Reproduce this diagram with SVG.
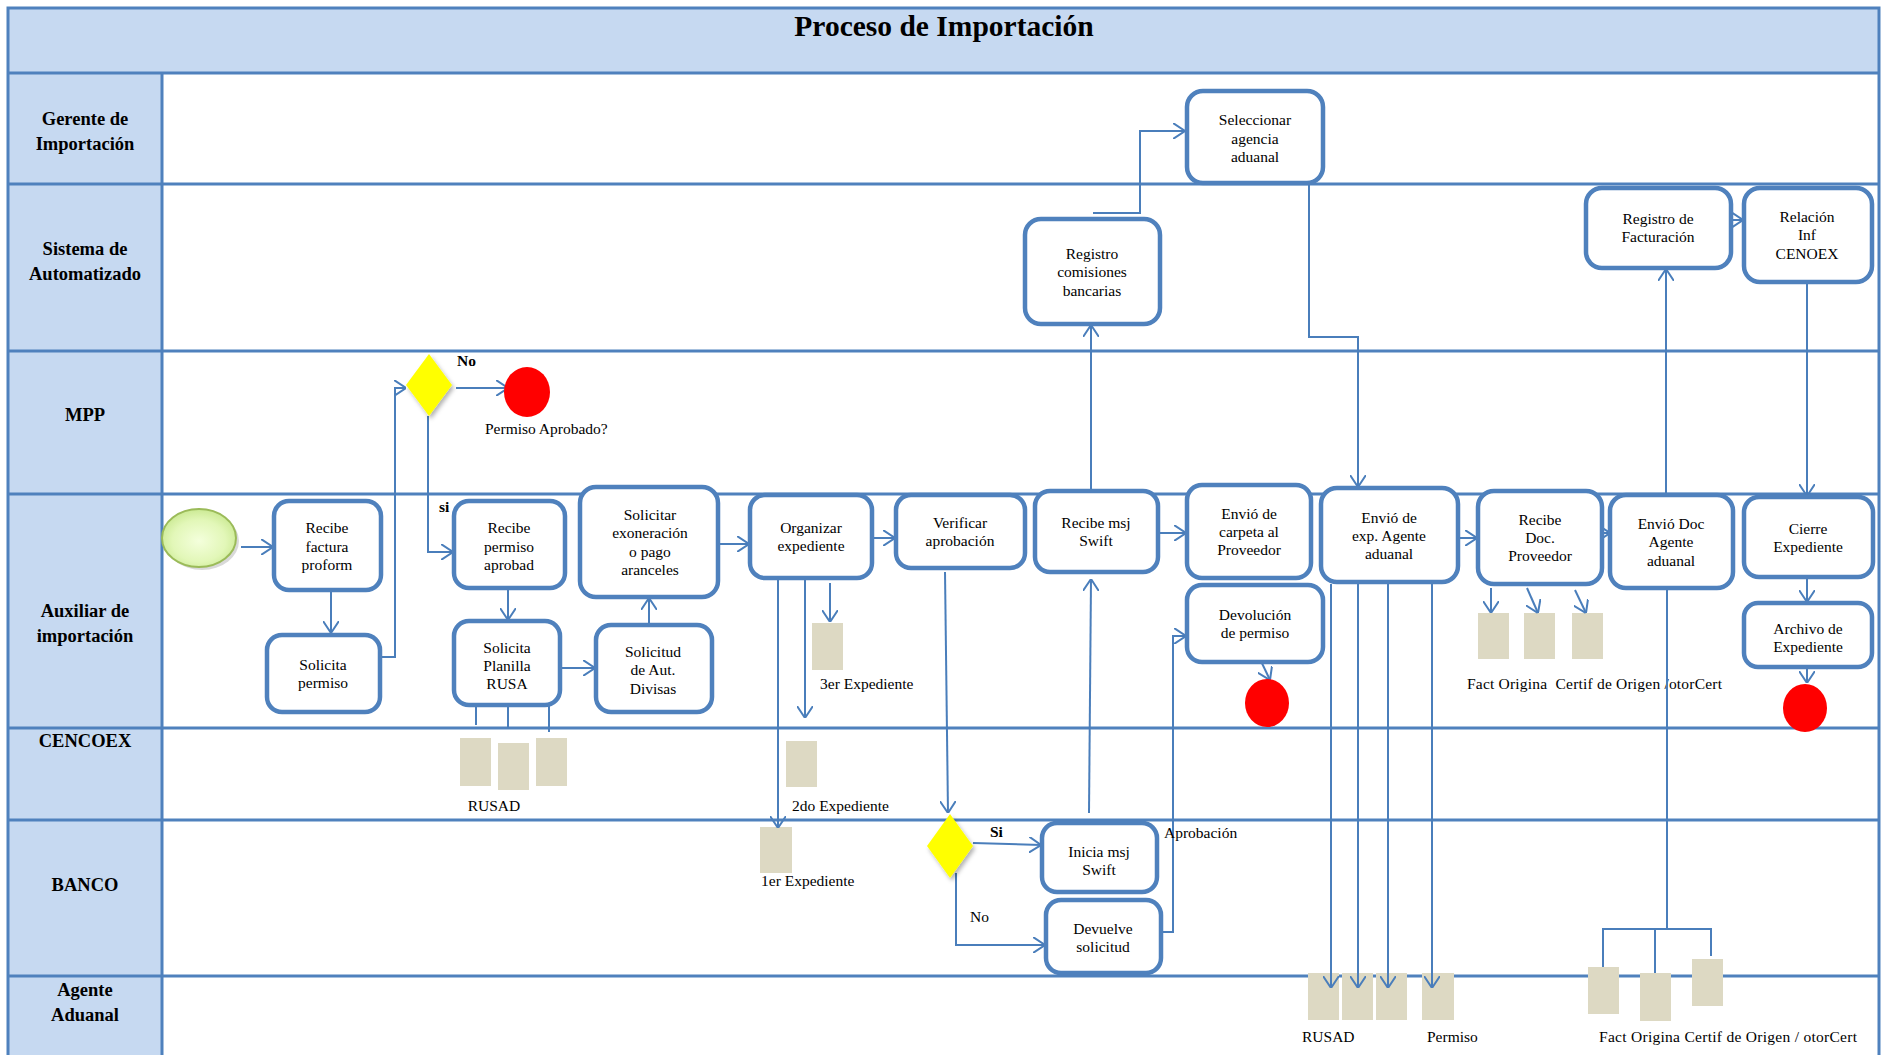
<svg xmlns="http://www.w3.org/2000/svg" width="1888" height="1055" viewBox="0 0 1888 1055">
  <style>
    .lane { stroke: #4f81bd; stroke-width: 3; fill: none; }
    .hdr { fill: #c6d9f1; }
    .hlabel { font-family: "Liberation Serif", "Times New Roman", serif; font-weight: bold; font-size: 18.5px; fill: #000; text-anchor: middle; }
    .title { font-family: "Liberation Serif", "Times New Roman", serif; font-weight: bold; font-size: 29.5px; fill: #000; text-anchor: middle; }
    .box { fill: #fff; stroke: #4f81bd; stroke-width: 4.5; }
    .t { font-family: "Liberation Serif", "Times New Roman", serif; font-size: 15.5px; fill: #000; text-anchor: middle; }
    .lbl { font-family: "Liberation Serif", "Times New Roman", serif; font-size: 15.5px; fill: #000; }
    .b { font-weight: bold; }
    .doc { fill: #ddd9c3; }
    .end { fill: #ff0000; }
    .gate { fill: #ffff00; filter: url(#shadow); }
    .conn path { fill: none; stroke: #4a7ebb; stroke-width: 2; }
    .conn .arr { marker-end: url(#open); }
  </style>
  <defs>
    <marker id="open" viewBox="0 0 12 16" refX="12" refY="8" markerWidth="12" markerHeight="16" markerUnits="userSpaceOnUse" orient="auto">
      <path d="M0,0 L12,8 L0,16" fill="none" stroke="#4a7ebb" stroke-width="2"/>
    </marker>
    <radialGradient id="startFill" cx="50%" cy="55%" r="60%">
      <stop offset="0" stop-color="#f4ffdc"/>
      <stop offset="0.6" stop-color="#e2f7b8"/>
      <stop offset="1" stop-color="#c5e68a"/>
    </radialGradient>
    <filter id="shadow" x="-30%" y="-30%" width="160%" height="160%">
      <feDropShadow dx="2" dy="3" stdDeviation="2" flood-color="#000" flood-opacity="0.3"/>
    </filter>
  </defs>

  <!-- pool frame, title band and lane headers -->
  <g id="pool">
    <rect x="8" y="8" width="1871" height="65" class="hdr"/>
    <rect x="8" y="73" width="154" height="990" class="hdr"/>
    <rect x="8" y="8" width="1871" height="1060" class="lane"/>
    <path class="lane" d="M8,73 H1879 M8,184 H1879 M8,351 H1879 M8,494 H1879 M8,728 H1879 M8,820 H1879 M8,976 H1879 M162,73 V1055"/>
    <text class="title" x="944" y="36">Proceso de Importación</text>
    <text class="hlabel" x="85" y="125">Gerente de</text>
    <text class="hlabel" x="85" y="150">Importación</text>
    <text class="hlabel" x="85" y="255">Sistema de</text>
    <text class="hlabel" x="85" y="280">Automatizado</text>
    <text class="hlabel" x="85" y="421">MPP</text>
    <text class="hlabel" x="85" y="617">Auxiliar de</text>
    <text class="hlabel" x="85" y="642">importación</text>
    <text class="hlabel" x="85" y="747">CENCOEX</text>
    <text class="hlabel" x="85" y="891">BANCO</text>
    <text class="hlabel" x="85" y="996">Agente</text>
    <text class="hlabel" x="85" y="1021">Aduanal</text>
  </g>

  <!-- documents -->
  <g id="docs_rusad">
    <rect class="doc" x="460" y="738" width="31" height="48"/>
    <rect class="doc" x="498" y="743" width="31" height="47"/>
    <rect class="doc" x="536" y="738" width="31" height="48"/>
    <text class="lbl" x="494" y="811" text-anchor="middle">RUSAD</text>
  </g>
  <g id="docs_expediente">
    <rect class="doc" x="812" y="623" width="31" height="47"/>
    <text class="lbl" x="820" y="689">3er Expediente</text>
    <rect class="doc" x="786" y="741" width="31" height="46"/>
    <text class="lbl" x="792" y="811">2do Expediente</text>
    <rect class="doc" x="760" y="827" width="32" height="46"/>
    <text class="lbl" x="761" y="886">1er Expediente</text>
  </g>
  <g id="docs_proveedor">
    <rect class="doc" x="1478" y="613" width="31" height="46"/>
    <rect class="doc" x="1524" y="613" width="31" height="46"/>
    <rect class="doc" x="1572" y="613" width="31" height="46"/>
    <text class="lbl" x="1467" y="689" xml:space="preserve" textLength="255" lengthAdjust="spacing">Fact Origina  Certif de Origen /otorCert</text>
  </g>
  <g id="docs_agente">
    <rect class="doc" x="1308" y="973" width="31" height="47"/>
    <rect class="doc" x="1342" y="973" width="31" height="47"/>
    <rect class="doc" x="1376" y="973" width="31" height="47"/>
    <rect class="doc" x="1422" y="973" width="32" height="47"/>
    <text class="lbl" x="1302" y="1042">RUSAD</text>
    <text class="lbl" x="1427" y="1042">Permiso</text>
    <rect class="doc" x="1588" y="967" width="31" height="47"/>
    <rect class="doc" x="1640" y="973" width="31" height="48"/>
    <rect class="doc" x="1692" y="959" width="31" height="47"/>
    <text class="lbl" x="1599" y="1042" textLength="258" lengthAdjust="spacing">Fact Origina Certif de Origen / otorCert</text>
  </g>

  <!-- connectors -->
  <g id="connectors" class="conn">
    <path class="arr" d="M241,547 H273"/>
    <path class="arr" d="M331,590 V633"/>
    <path class="arr" d="M380,657 H395 V388 H406"/>
    <path class="arr" d="M456,388 H508"/>
    <path class="arr" d="M428,416 V552 H453"/>
    <path class="arr" d="M508,588 V620"/>
    <path class="arr" d="M560,668 H595"/>
    <path class="arr" d="M649,625 V598"/>
    <path class="arr" d="M718,544 H749"/>
    <path class="arr" d="M872,538 H895"/>
    <path class="arr" d="M778,574 V828"/>
    <path class="arr" d="M805,578 V718"/>
    <path class="arr" d="M830,583 V622"/>
    <path class="arr" d="M945,572 L948,813"/>
    <path class="arr" d="M973,843 L1041,845"/>
    <path class="arr" d="M956,873 V945 H1045"/>
    <path class="arr" d="M1089,813 L1091,579"/>
    <path class="arr" d="M1091,491 V325"/>
    <path class="arr" d="M1158,533 H1186"/>
    <path class="arr" d="M1161,932 H1173 V636 H1186"/>
    <path class="arr" d="M1259,657 L1270,680"/>
    <path class="arr" d="M1093,213 H1140 V131 H1185"/>
    <path class="arr" d="M1309,183 V337 H1358 V487"/>
    <path class="arr" d="M1458,538 H1477"/>
    <path class="arr" d="M1331,584 V988"/>
    <path class="arr" d="M1358,584 V988"/>
    <path class="arr" d="M1388,584 V988"/>
    <path class="arr" d="M1432,584 V988"/>
    <path class="arr" d="M1491,588 V613"/>
    <path class="arr" d="M1527,588 L1538,613"/>
    <path class="arr" d="M1575,590 L1586,613"/>
    <path class="arr" d="M1600,533 H1610"/>
    <path class="arr" d="M1666,495 V269"/>
    <path class="arr" d="M1731,220 H1743"/>
    <path class="arr" d="M1807,282 V496"/>
    <path class="arr" d="M1807,577 V602"/>
    <path class="arr" d="M1807,667 V683"/>
    <path d="M1667,588 V929"/>
    <path d="M1603,967 V929 H1711 V956"/>
    <path d="M1655,929 V973"/>
    <path d="M476,705 V725 M508,705 V728 M549,705 V732"/>
  </g>

  <!-- events and gateways -->
  <g id="start">
    <ellipse cx="202" cy="541" rx="37" ry="29" fill="#000" opacity="0.15"/>
    <ellipse cx="199" cy="538" rx="37" ry="29" fill="url(#startFill)" stroke="#9bbb59" stroke-width="2"/>
  </g>
  <g id="gate_permiso"><path class="gate" d="M429,354 L452,385 L429,416 L406,385 Z"/></g>
  <g id="end_rechazo"><ellipse class="end" cx="527" cy="392" rx="23" ry="25"/></g>
  <g id="gate_aprobacion"><path class="gate" d="M950,814 L973,846 L950,878 L927,846 Z"/></g>
  <g id="end_devolucion"><ellipse class="end" cx="1267" cy="703" rx="22" ry="24"/></g>
  <g id="end_archivo"><ellipse class="end" cx="1805" cy="708" rx="22" ry="24"/></g>

  <!-- activities -->
  <g id="recibe_factura">
    <rect class="box" x="274" y="501" width="107" height="89" rx="15"/>
    <text class="t"><tspan x="327" y="533">Recibe</tspan><tspan x="327" y="552">factura</tspan><tspan x="327" y="570">proform</tspan></text>
  </g>
  <g id="solicita_permiso">
    <rect class="box" x="267" y="635" width="113" height="77" rx="15"/>
    <text class="t"><tspan x="323" y="670">Solicita</tspan><tspan x="323" y="688">permiso</tspan></text>
  </g>
  <g id="recibe_permiso">
    <rect class="box" x="454" y="501" width="111" height="87" rx="15"/>
    <text class="t"><tspan x="509" y="533">Recibe</tspan><tspan x="509" y="552">permiso</tspan><tspan x="509" y="570">aprobad</tspan></text>
  </g>
  <g id="planilla_rusa">
    <rect class="box" x="454" y="621" width="106" height="84" rx="15"/>
    <text class="t"><tspan x="507" y="653">Solicita</tspan><tspan x="507" y="671">Planilla</tspan><tspan x="507" y="689">RUSA</tspan></text>
  </g>
  <g id="exoneracion">
    <rect class="box" x="580" y="487" width="138" height="110" rx="16"/>
    <text class="t"><tspan x="650" y="520">Solicitar</tspan><tspan x="650" y="538">exoneración</tspan><tspan x="650" y="557">o pago</tspan><tspan x="650" y="575">aranceles</tspan></text>
  </g>
  <g id="aut_divisas">
    <rect class="box" x="596" y="625" width="116" height="87" rx="15"/>
    <text class="t"><tspan x="653" y="657">Solicitud</tspan><tspan x="653" y="675">de Aut.</tspan><tspan x="653" y="694">Divisas</tspan></text>
  </g>
  <g id="organizar">
    <rect class="box" x="750" y="495" width="122" height="83" rx="15"/>
    <text class="t"><tspan x="811" y="533">Organizar</tspan><tspan x="811" y="551">expediente</tspan></text>
  </g>
  <g id="verificar">
    <rect class="box" x="896" y="495" width="129" height="73" rx="15"/>
    <text class="t"><tspan x="960" y="528">Verificar</tspan><tspan x="960" y="546">aprobación</tspan></text>
  </g>
  <g id="recibe_swift">
    <rect class="box" x="1035" y="491" width="123" height="81" rx="15"/>
    <text class="t"><tspan x="1096" y="528">Recibe msj</tspan><tspan x="1096" y="546">Swift</tspan></text>
  </g>
  <g id="envio_carpeta">
    <rect class="box" x="1187" y="485" width="124" height="93" rx="15"/>
    <text class="t"><tspan x="1249" y="519">Envió de</tspan><tspan x="1249" y="537">carpeta al</tspan><tspan x="1249" y="555">Proveedor</tspan></text>
  </g>
  <g id="devolucion_permiso">
    <rect class="box" x="1187" y="585" width="136" height="77" rx="15"/>
    <text class="t"><tspan x="1255" y="620">Devolución</tspan><tspan x="1255" y="638">de permiso</tspan></text>
  </g>
  <g id="envio_exp_agente">
    <rect class="box" x="1321" y="488" width="137" height="94" rx="16"/>
    <text class="t"><tspan x="1389" y="523">Envió de</tspan><tspan x="1389" y="541">exp. Agente</tspan><tspan x="1389" y="559">aduanal</tspan></text>
  </g>
  <g id="recibe_doc">
    <rect class="box" x="1478" y="491" width="124" height="93" rx="16"/>
    <text class="t"><tspan x="1540" y="525">Recibe</tspan><tspan x="1540" y="543">Doc.</tspan><tspan x="1540" y="561">Proveedor</tspan></text>
  </g>
  <g id="envio_doc_agente">
    <rect class="box" x="1610" y="495" width="123" height="93" rx="16"/>
    <text class="t"><tspan x="1671" y="529">Envió Doc</tspan><tspan x="1671" y="547">Agente</tspan><tspan x="1671" y="566">aduanal</tspan></text>
  </g>
  <g id="cierre">
    <rect class="box" x="1744" y="497" width="129" height="80" rx="15"/>
    <text class="t"><tspan x="1808" y="534">Cierre</tspan><tspan x="1808" y="552">Expediente</tspan></text>
  </g>
  <g id="archivo">
    <rect class="box" x="1744" y="603" width="128" height="64" rx="14"/>
    <text class="t"><tspan x="1808" y="634">Archivo de</tspan><tspan x="1808" y="652">Expediente</tspan></text>
  </g>
  <g id="seleccionar_agencia">
    <rect class="box" x="1187" y="91" width="136" height="92" rx="16"/>
    <text class="t"><tspan x="1255" y="125">Seleccionar</tspan><tspan x="1255" y="144">agencia</tspan><tspan x="1255" y="162">aduanal</tspan></text>
  </g>
  <g id="registro_comisiones">
    <rect class="box" x="1025" y="219" width="135" height="105" rx="16"/>
    <text class="t"><tspan x="1092" y="259">Registro</tspan><tspan x="1092" y="277">comisiones</tspan><tspan x="1092" y="296">bancarias</tspan></text>
  </g>
  <g id="registro_facturacion">
    <rect class="box" x="1586" y="188" width="145" height="80" rx="16"/>
    <text class="t"><tspan x="1658" y="224">Registro de</tspan><tspan x="1658" y="242">Facturación</tspan></text>
  </g>
  <g id="relacion_cenoex">
    <rect class="box" x="1744" y="188" width="128" height="94" rx="16"/>
    <text class="t"><tspan x="1807" y="222">Relación</tspan><tspan x="1807" y="240">Inf</tspan><tspan x="1807" y="259">CENOEX</tspan></text>
  </g>
  <g id="inicia_swift">
    <rect class="box" x="1042" y="823" width="115" height="69" rx="15"/>
    <text class="t"><tspan x="1099" y="857">Inicia msj</tspan><tspan x="1099" y="875">Swift</tspan></text>
  </g>
  <g id="devuelve_solicitud">
    <rect class="box" x="1046" y="900" width="115" height="73" rx="15"/>
    <text class="t"><tspan x="1103" y="934">Devuelve</tspan><tspan x="1103" y="952">solicitud</tspan></text>
  </g>

  <!-- gateway and flow labels -->
  <g id="labels">
    <text class="lbl b" x="457" y="366">No</text>
    <text class="lbl" x="485" y="434">Permiso Aprobado?</text>
    <text class="lbl b" x="439" y="512">si</text>
    <text class="lbl b" x="990" y="837">Si</text>
    <text class="lbl" x="970" y="922">No</text>
    <text class="lbl" x="1164" y="838">Aprobación</text>
  </g>
</svg>
